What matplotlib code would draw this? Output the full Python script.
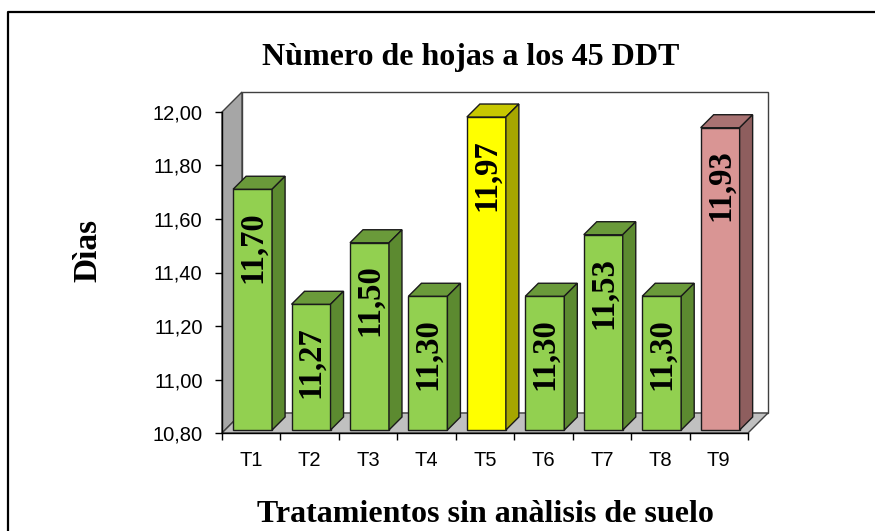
import numpy as np
import matplotlib
matplotlib.use("Agg")
import matplotlib.pyplot as plt
from matplotlib.patches import Polygon, Rectangle
from matplotlib.lines import Line2D

# datos
tratamientos = ['T1', 'T2', 'T3', 'T4', 'T5', 'T6', 'T7', 'T8', 'T9']
hojas = [11.70, 11.27, 11.50, 11.30, 11.97, 11.30, 11.53, 11.30, 11.93]
y_ticks = [10.80, 11.00, 11.20, 11.40, 11.60, 11.80, 12.00]

# colores de cada barra: (frente, techo, lado)
verde = ('#92D050', '#6A9A3A', '#5C8A30')
amarillo = ('#FFFF00', '#C8C800', '#A6A600')
rosa = ('#D99594', '#A87272', '#8E5E5E')
colores = [verde] * 4 + [amarillo] + [verde] * 3 + [rosa]

plt.rcParams['font.family'] = ['Liberation Sans', 'DejaVu Sans']
serif = ['Liberation Serif', 'DejaVu Serif']

W, H = 875, 531
fig = plt.figure(figsize=(W / 100, H / 100), dpi=100)
ax = fig.add_axes([222 / W, 98 / H, 526 / W, 321 / H])
ax.set_xlim(0, 9)
ax.set_ylim(10.8, 12.0)
ax.patch.set_visible(False)

# pixeles por unidad de datos, para el efecto 3D
px_x = 526 / 9
px_y = 321 / 1.2


def prof(p):
    return p / px_x, p / px_y


y0 = 10.8
dxw, dyw = prof(20)
borde = '#404040'

# pared del fondo, pared lateral y piso
ax.add_patch(Rectangle((dxw, y0 + dyw), 9, 1.2, fc='white', ec=borde, lw=1,
                       clip_on=False, zorder=0.3))
ax.add_patch(Polygon([(0, y0), (0, 12.0), (dxw, 12.0 + dyw), (dxw, y0 + dyw)],
                     closed=True, fc='#A6A6A6', ec=borde, lw=1, clip_on=False, zorder=0.4))
ax.add_patch(Polygon([(0, y0), (9, y0), (9 + dxw, y0 + dyw), (dxw, y0 + dyw)],
                     closed=True, fc='#C0C0C0', ec=borde, lw=1, clip_on=False, zorder=0.4))

# barras
ancho = 0.667
d0x, d0y = prof(3)
ddx, ddy = prof(13)
xl = np.arange(len(hojas)) + 0.19
alturas = [v - y0 for v in hojas]
ax.bar(xl, alturas, width=ancho, bottom=y0 + d0y, align='edge',
       color=[c[0] for c in colores], edgecolor='#1a1a1a', linewidth=1, zorder=2, clip_on=False)

for x, v, (cf, ct, cl) in zip(xl, hojas, colores):
    yt = v + d0y
    xr = x + ancho
    ax.add_patch(Polygon([(x, yt), (xr, yt), (xr + ddx, yt + ddy), (x + ddx, yt + ddy)],
                         closed=True, fc=ct, ec='#1a1a1a', lw=1, clip_on=False, zorder=2))
    ax.add_patch(Polygon([(xr, y0 + d0y), (xr, yt), (xr + ddx, yt + ddy), (xr + ddx, y0 + d0y + ddy)],
                         closed=True, fc=cl, ec='#1a1a1a', lw=1, clip_on=False, zorder=2))
    ax.annotate(f'{v:.2f}'.replace('.', ','), (x + ancho / 2, yt), xytext=(0, -22),
                textcoords='offset pixels', rotation=90, ha='center', va='top',
                fontsize=23.5, fontweight='bold', family=serif, zorder=3)

# ejes
for s in ['top', 'right']:
    ax.spines[s].set_visible(False)
for s in ['left', 'bottom']:
    ax.spines[s].set_color('black')
    ax.spines[s].set_linewidth(1)

ax.set_yticks(y_ticks)
ax.set_yticklabels([f'{t:.2f}'.replace('.', ',') for t in y_ticks])
ax.tick_params(axis='y', length=5, width=1, pad=9, labelsize=14.5)

ax.set_xticks(np.arange(10))
ax.set_xticklabels([''] * 10)
ax.tick_params(axis='x', which='major', length=5, width=1)
ax.set_xticks(np.arange(len(tratamientos)) + 0.5, minor=True)
ax.set_xticklabels(tratamientos, minor=True)
ax.tick_params(axis='x', which='minor', length=0, pad=13, labelsize=14.5)

# textos
fig.text(471 / W, 1 - 58 / H, 'Nùmero de hojas a los 45 DDT', ha='center', va='center',
         fontsize=23, fontweight='bold', family=serif)
fig.text(485 / W, 1 - 514 / H, 'Tratamientos sin anàlisis de suelo', ha='center', va='center',
         fontsize=23, fontweight='bold', family=serif)
fig.text(88 / W, 1 - 250 / H, 'Dìas', ha='center', va='center', rotation=90,
         fontsize=24, fontweight='bold', family=serif)

# marco
fig.add_artist(Line2D([8 / W, 8 / W, 1], [0, 1 - 12 / H, 1 - 12 / H], color='black', lw=1.6))

fig.savefig('out.png', dpi=100)
